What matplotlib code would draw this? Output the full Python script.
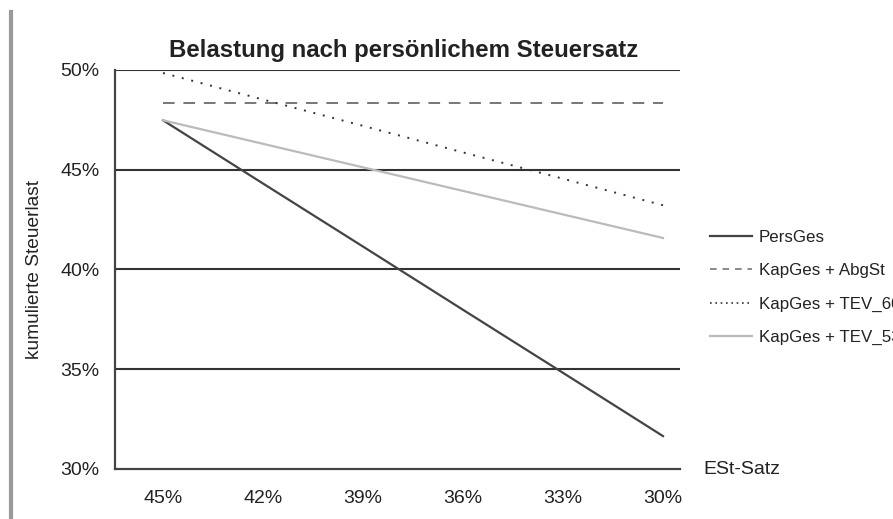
import matplotlib
matplotlib.use("Agg")
import matplotlib.pyplot as plt
from matplotlib.lines import Line2D

plt.rcParams['font.family'] = ['Liberation Sans', 'DejaVu Sans']

categories = ["45%", "42%", "39%", "36%", "33%", "30%"]
pers_ges = [47.48, 44.31, 41.15, 37.98, 34.82, 31.65]
kap_abgst = [48.33, 48.33, 48.33, 48.33, 48.33, 48.33]
kap_tev60 = [49.85, 48.52, 47.20, 45.87, 44.55, 43.22]
kap_tev53 = [47.48, 46.30, 45.12, 43.94, 42.76, 41.58]
series_labels = ["PersGes", "KapGes + AbgSt", "KapGes + TEV_60", "KapGes + TEV_53"]
y_ticks = [30, 35, 40, 45, 50]
y_tick_labels = ["30%", "35%", "40%", "45%", "50%"]

fig = plt.figure(figsize=(8.93, 5.19), dpi=100)
ax = fig.add_axes([115/893, 1-469/519, 565/893, 399/519])

x = list(range(len(categories)))
for yv in [35, 40, 45, 50]:
    ax.axhline(yv, color='#333333', lw=1.5, zorder=1)

ax.plot(x, pers_ges, color='#444444', lw=1.6, zorder=3)
ax.plot(x, kap_abgst, color='#777777', lw=1.4, ls=(0, (6, 4.5)), zorder=3)
ax.plot(x, kap_tev60, color='#333333', lw=1.4, ls=(0, (1, 4)), zorder=3)
ax.plot(x, kap_tev53, color='#bbbbbb', lw=1.6, zorder=3)

ax.set_xlim(-0.48, 5.17)
ax.set_ylim(30, 50)
ax.set_xticks(x)
ax.set_xticklabels(categories)
ax.set_yticks(y_ticks)
ax.set_yticklabels(y_tick_labels)
ax.tick_params(axis='both', length=0, labelsize=14, colors='#222222')
ax.tick_params(axis='y', pad=11)
ax.tick_params(axis='x', pad=15)

for s in ['top', 'right']:
    ax.spines[s].set_visible(False)
for s in ['left', 'bottom']:
    ax.spines[s].set_color('#444444')
    ax.spines[s].set_linewidth(1.6)

ax.set_ylabel('kumulierte Steuerlast', fontsize=13.8, color='#222222')
ax.yaxis.set_label_coords(-0.127, 0.5)
ax.set_title('Belastung nach persönlichem Steuersatz', fontsize=17.3, fontweight='bold',
             color='#222222', pad=9, x=0.511)

ax.text(1.0407, 0, 'ESt-Satz', transform=ax.transAxes, ha='left', va='center',
        fontsize=14, color='#222222')

handles = [
    Line2D([], [], color='#444444', lw=1.6),
    Line2D([], [], color='#777777', lw=1.2, ls=(0, (4, 3.5))),
    Line2D([], [], color='#333333', lw=1.2, ls=(0, (1, 2.2))),
    Line2D([], [], color='#bbbbbb', lw=1.6),
]
leg = ax.legend(handles, series_labels, loc='center left', bbox_to_anchor=(1.053, 0.455),
                frameon=False, borderpad=0, borderaxespad=0, handlelength=2.5,
                handletextpad=0.4, labelspacing=1.08, fontsize=12.2)
for t in leg.get_texts():
    t.set_color('#222222')

fig.add_artist(Line2D([11/893, 11/893], [0, 1-12/519], color='#999999', lw=3,
                      transform=fig.transFigure))

fig.savefig('out.png', dpi=100)
